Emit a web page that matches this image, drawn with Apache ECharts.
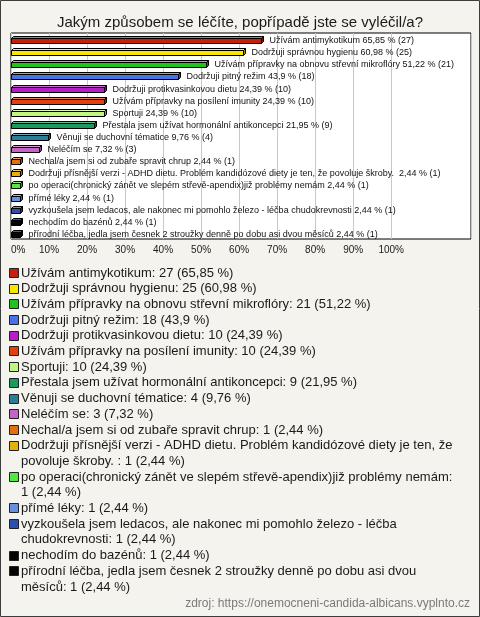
<!DOCTYPE html>
<html><head><meta charset="utf-8">
<script src="https://cdn.jsdelivr.net/npm/echarts@6/dist/echarts.min.js"></script>
<style>html,body{margin:0;padding:0;background:#f4f3ed}#c{width:480px;height:617px}</style>
</head><body><div id="c"></div>
<script>
const categories = [
  "Užívám antimykotikum",
  "Dodržuji správnou hygienu",
  "Užívám přípravky na obnovu střevní mikroflóry",
  "Dodržuji pitný režim",
  "Dodržuji protikvasinkovou dietu",
  "Užívám přípravky na posílení imunity",
  "Sportuji",
  "Přestala jsem užívat hormonální antikoncepci",
  "Věnuji se duchovní tématice",
  "Neléčím se",
  "Nechal/a jsem si od zubaře spravit chrup",
  "Dodržuji přísnější verzi - ADHD dietu. Problém kandidózové diety je ten, že povoluje škroby. ",
  "po operaci(chronický zánět ve slepém střevě-apendix)již problémy nemám",
  "přímé léky",
  "vyzkoušela jsem ledacos, ale nakonec mi pomohlo železo - léčba chudokrevnosti",
  "nechodím do bazénů",
  "přírodní léčba, jedla jsem česnek 2 stroužky denně po dobu asi dvou měsíců"
];
const counts = [27, 25, 21, 18, 10, 10, 10, 9, 4, 3, 1, 1, 1, 1, 1, 1, 1];
const percents = [65.85, 60.98, 51.22, 43.9, 24.39, 24.39, 24.39, 21.95, 9.76, 7.32, 2.44, 2.44, 2.44, 2.44, 2.44, 2.44, 2.44];
const tickValues = [0, 10, 20, 30, 40, 50, 60, 70, 80, 90, 100];
const colors = ["#c4200c", "#fbe600", "#1ec31e", "#4a72e6", "#b51dc9", "#e2400e", "#c2f584", "#1a9a5c", "#2a7e98", "#c564c6", "#e36d0f", "#e3b00e", "#52e83c", "#6591e0", "#2c4fb0", "#050505", "#050505"];
const source = "zdroj: https://onemocneni-candida-albicans.vyplnto.cz";
const title = "Jakým způsobem se léčíte, popřípadě jste se vyléčil/a?";

const fmt = v => String(v).replace('.', ',');
const FONT = '"Liberation Sans", Arial, sans-serif';

function shade(hex, f) {
  let r = parseInt(hex.slice(1,3),16), g = parseInt(hex.slice(3,5),16), b = parseInt(hex.slice(5,7),16);
  if (f > 0) { r += (255-r)*f; g += (255-g)*f; b += (255-b)*f; }
  else { r *= (1+f); g *= (1+f); b *= (1+f); }
  return 'rgb(' + [r,g,b].map(x => Math.round(x)).join(',') + ')';
}

// legend text wrapping
const cnv = document.createElement('canvas').getContext('2d');
cnv.font = '13px ' + FONT;
function wrap(text, maxW) {
  const words = text.split(' ');
  const lines = [];
  let cur = '';
  for (const w of words) {
    const t = cur ? cur + ' ' + w : w;
    if (cur && cnv.measureText(t).width > maxW) { lines.push(cur); cur = w; }
    else cur = t;
  }
  if (cur) lines.push(cur);
  return lines;
}

const graphics = [];
graphics.push({type:'rect', shape:{x:0.5,y:0.5,width:479,height:616}, style:{fill:'none', stroke:'#3c3c3c', lineWidth:1}, silent:true, z:-1});
let ly = 273;
const LH = 15.7;
categories.forEach((c, i) => {
  const txt = c + ': ' + counts[i] + ' (' + fmt(percents[i]) + ' %)';
  const lines = wrap(txt, 437);
  graphics.push({type:'rect', shape:{x:9.5, y:Math.round(ly)-4.5, width:9, height:9}, style:{fill:colors[i], stroke:'#222', lineWidth:1}});
  graphics.push({type:'text', x:21, y:ly + LH*(lines.length-1)/2, style:{text:lines.join('\n'), font:'13px ' + FONT, fill:'#1a1a1a', verticalAlign:'middle', lineHeight:LH}});
  ly += LH * lines.length;
});
graphics.push({type:'text', right:10, top:598, style:{text:source, font:'12px ' + FONT, fill:'#7a7a7a'}});

const data = percents.map((p, i) => [p, i]);

function renderItem(params, api) {
  const i = api.value(1);
  const p0 = api.coord([0, i]);
  const p1 = api.coord([api.value(0), i]);
  const c = Math.round(p0[1]) + 0.5;
  const x0 = Math.round(p0[0]) + 0.5, x1 = Math.round(p1[0]) + 0.5;
  const d = 2;
  const col = colors[i];
  return {
    type: 'group',
    children: [
      {type:'polygon', shape:{points:[[x0,c-1],[x0+d,c-1-d],[x1+d,c-1-d],[x1,c-1]]}, style:{fill:shade(col,0.35), stroke:'#000', lineWidth:1}},
      {type:'polygon', shape:{points:[[x1,c-1],[x1+d,c-1-d],[x1+d,c+4-d],[x1,c+4]]}, style:{fill:shade(col,-0.35), stroke:'#000', lineWidth:1}},
      {type:'rect', shape:{x:x0, y:c-1, width:x1-x0, height:5}, style:{fill:col, stroke:'#000', lineWidth:1}},
      {type:'text', x:x1 + 8, y:c + 1, style:{text:categories[i] + ' ' + fmt(percents[i]) + ' % (' + counts[i] + ')', font:'9px ' + FONT, fill:'#111', verticalAlign:'middle', align:'left'}}
    ]
  };
}

const chart = echarts.init(document.getElementById('c'), null, {renderer:'canvas'});
chart.setOption({
  backgroundColor: '#f4f3ed',
  animation: false,
  title: {text: title, left: 'center', top: 10, textStyle:{fontFamily: FONT, fontSize: 15, fontWeight: 'normal', color:'#1a1a1a'}},
  grid: {left: 11, right: 9, top: 33, height: 206, show: true, backgroundColor: '#ffffff', borderColor: '#000', borderWidth: 1},
  xAxis: {
    type: 'value', min: 0, max: 121, interval: 10,
    axisLine: {show:false}, axisTick: {show:false},
    axisLabel: {margin: 6, fontSize: 10, fontFamily: FONT, color:'#1a1a1a', alignMinLabel:'left',
      formatter: v => tickValues.indexOf(v) >= 0 ? v + '%' : ''},
    splitLine: {show:true, lineStyle:{color: tickValues.map(()=> '#c8c8c8').concat(['rgba(0,0,0,0)','rgba(0,0,0,0)']), width:1}}
  },
  yAxis: {
    type: 'category', data: categories, inverse: true,
    axisLine:{show:false}, axisTick:{show:false}, axisLabel:{show:false}, splitLine:{show:false}
  },
  series: [{type:'custom', renderItem: renderItem, data: data, encode:{x:0, y:1}, clip:false}],
  graphic: graphics
});
</script>
</body></html>
